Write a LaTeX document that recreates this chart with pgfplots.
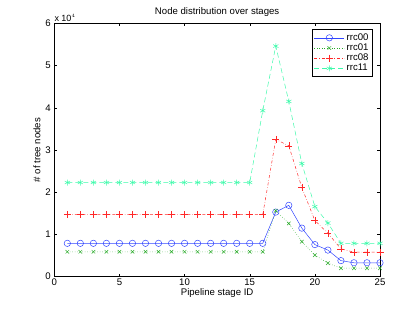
\documentclass[border=0pt]{standalone}
\usepackage{pgfplots}
\pgfplotsset{compat=1.18}
\usepackage{fontspec}
\setmainfont{Liberation Sans}
\definecolor{cA}{RGB}{50,70,255}
\definecolor{cB}{RGB}{40,170,40}
\definecolor{cC}{RGB}{255,40,40}
\definecolor{cD}{RGB}{60,250,170}
\begin{document}
\begin{tikzpicture}[x=1pt,y=1pt]
\path[use as bounding box] (0,0) rectangle (415,312);
\begin{axis}[
  at={(54.3pt,35.3pt)}, anchor=south west,
  scale only axis, width=325.7pt, height=253.4pt,
  xmin=0, xmax=25, ymin=0, ymax=6,
  xtick={0,5,10,15,20,25}, ytick={0,1,2,3,4,5,6},
  tick align=inside, tick pos=both,
  major tick length=3pt,
  font=\fontsize{9.6}{11}\selectfont,
  /pgf/number format/assume math mode=true,
  title={Node distribution over stages},
  title style={at={(rel axis cs:0.5,1)}, anchor=base, yshift=3pt},
  xlabel={Pipeline stage ID},
  ylabel={\# of tree nodes},
  xticklabel style={yshift=1pt},
  xlabel style={yshift=4pt},
  ylabel style={yshift=-2pt},
  axis line style={black, line width=0.5pt},
  every tick/.style={black, line width=0.4pt},
  legend style={at={(0.978,0.976)}, anchor=north east, draw=black, line width=0.7pt,
    font=\fontsize{9.6}{11}\selectfont, row sep=-2pt, inner sep=2pt},
  legend cell align=left,
  legend image code/.code={
    \draw[mark repeat=2,mark phase=2,#1] plot coordinates {(0pt,0pt) (15pt,0pt) (30pt,0pt)};
  },
  clip=false,
]
\addplot[cA, line width=0.5pt, mark=o, mark size=3.2pt, mark options={solid}] coordinates {
(1,0.79)(2,0.79)(3,0.79)(4,0.79)(5,0.79)(6,0.79)(7,0.79)(8,0.79)(9,0.79)(10,0.79)
(11,0.79)(12,0.79)(13,0.79)(14,0.79)(15,0.79)(16,0.79)(17,1.53)(18,1.69)(19,1.15)(20,0.76)
(21,0.63)(22,0.38)(23,0.33)(24,0.33)(25,0.33)};
\addplot[cB, line width=0.5pt, dotted, mark=x, mark size=2.5pt, mark options={solid}] coordinates {
(1,0.59)(2,0.59)(3,0.59)(4,0.59)(5,0.59)(6,0.59)(7,0.59)(8,0.59)(9,0.59)(10,0.59)
(11,0.59)(12,0.59)(13,0.59)(14,0.59)(15,0.59)(16,0.59)(17,1.56)(18,1.26)(19,0.83)(20,0.51)
(21,0.32)(22,0.20)(23,0.20)(24,0.20)(25,0.20)};
\addplot[cC, line width=0.5pt, dash dot, mark=+, mark size=3.5pt, mark options={solid}] coordinates {
(1,1.47)(2,1.47)(3,1.47)(4,1.47)(5,1.47)(6,1.47)(7,1.47)(8,1.47)(9,1.47)(10,1.47)
(11,1.47)(12,1.47)(13,1.47)(14,1.47)(15,1.47)(16,1.47)(17,3.25)(18,3.10)(19,2.11)(20,1.33)
(21,1.03)(22,0.66)(23,0.58)(24,0.58)(25,0.58)};
\addplot[cD, line width=0.5pt, dash pattern=on 5pt off 3pt, mark=asterisk, mark size=3pt, mark options={solid}] coordinates {
(1,2.23)(2,2.23)(3,2.23)(4,2.23)(5,2.23)(6,2.23)(7,2.23)(8,2.23)(9,2.23)(10,2.23)
(11,2.23)(12,2.23)(13,2.23)(14,2.23)(15,2.23)(16,3.93)(17,5.46)(18,4.15)(19,2.68)(20,1.66)
(21,1.27)(22,0.79)(23,0.79)(24,0.79)(25,0.79)};
\legend{rrc00,rrc01,rrc08,rrc11}
\node[anchor=south west, inner sep=0pt, font=\fontsize{9}{10}\selectfont] at (rel axis cs:0,1) [yshift=2pt] {x 10$^{\scriptscriptstyle 4}$};
\end{axis}
\end{tikzpicture}
\end{document}
